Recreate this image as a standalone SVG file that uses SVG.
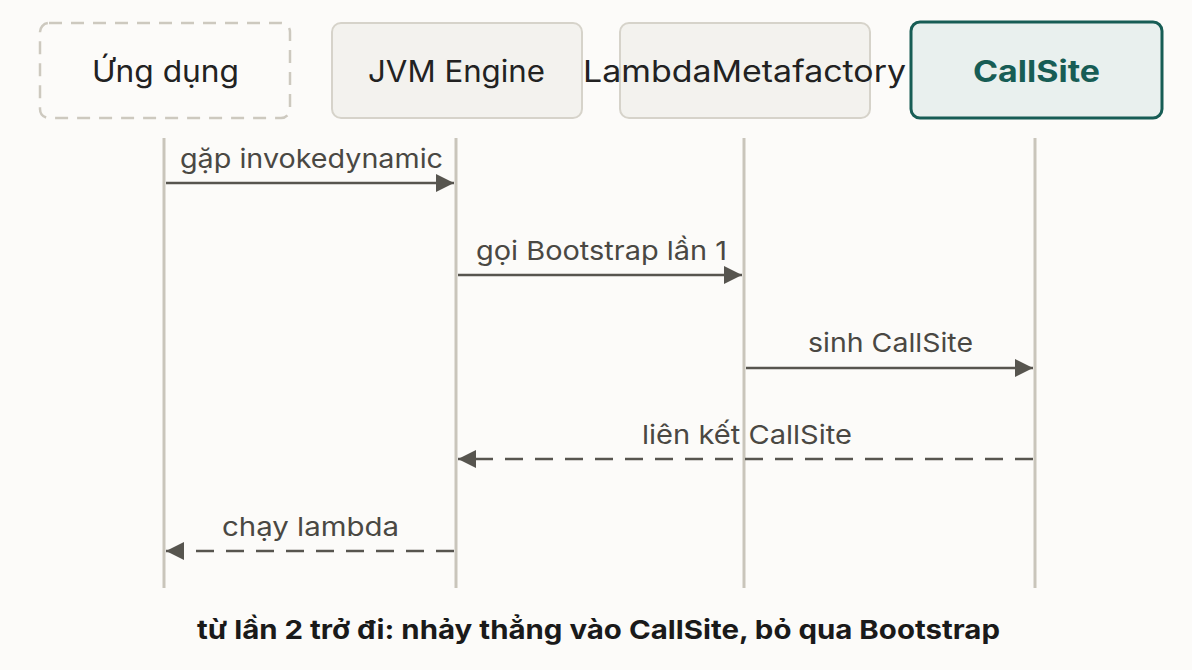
<svg xmlns="http://www.w3.org/2000/svg" width="1192" height="670" viewBox="0 0 1192 670">
<defs>
<style>
.bg{fill:#fcfbf9}
.box{fill:#f3f2ee;stroke:#d6d3ca;stroke-width:2}
.dash{fill:#fcfbf9;stroke:#cdc9bf;stroke-width:2.5;stroke-dasharray:13 9}
.hl{fill:#e9f0ee;stroke:#175d55;stroke-width:3}
.nt{font-family:Inter,"Noto Sans",sans-serif;font-size:30px;fill:#222;text-anchor:middle}
.nth{font-family:Inter,"Noto Sans",sans-serif;font-size:30px;font-weight:700;fill:#175d55;text-anchor:middle}
.life{stroke:#c9c5bb;stroke-width:3}
.msg{stroke:#57554f;stroke-width:2.5;fill:none}
.ret{stroke:#57554f;stroke-width:2.5;fill:none;stroke-dasharray:18 12}
.lt{font-family:Inter,"Noto Sans",sans-serif;font-size:26px;fill:#4a4843;text-anchor:middle}
.ft{font-family:Inter,"Noto Sans",sans-serif;font-size:26px;font-weight:700;fill:#1a1a1a;text-anchor:middle}
</style>
<marker id="ah2" viewBox="0 0 18 18" refX="18" refY="9" markerWidth="18" markerHeight="18" markerUnits="userSpaceOnUse" orient="auto">
<path d="M0,0 L18,9 L0,18 Z" fill="#57554f"/>
</marker>
</defs>
<rect class="bg" x="0" y="0" width="1192" height="670"/>
<g id="lifelines">
<line class="life" x1="164" y1="138" x2="164" y2="588"/>
<line class="life" x1="456" y1="138" x2="456" y2="588"/>
<line class="life" x1="744" y1="138" x2="744" y2="588"/>
<line class="life" x1="1035" y1="138" x2="1035" y2="588"/>
</g>
<g id="app"><rect class="dash" x="40" y="23" width="250" height="95" rx="9"/><text class="nt" x="165.5" y="82" textLength="147" lengthAdjust="spacingAndGlyphs">Ứng dụng</text></g>
<g id="jvm"><rect class="box" x="332" y="23" width="250" height="95" rx="9"/><text class="nt" x="456.5" y="82" textLength="177" lengthAdjust="spacingAndGlyphs">JVM Engine</text></g>
<g id="lmf"><rect class="box" x="620" y="23" width="250" height="95" rx="9"/><text class="nt" x="744.5" y="82" textLength="323" lengthAdjust="spacingAndGlyphs">LambdaMetafactory</text></g>
<g id="callsite"><rect class="hl" x="911" y="22" width="251" height="96" rx="9"/><text class="nth" x="1036.5" y="82" textLength="127" lengthAdjust="spacingAndGlyphs">CallSite</text></g>
<g id="connectors">
<line class="msg" x1="166" y1="183" x2="454" y2="183" marker-end="url(#ah2)"/>
<text class="lt" x="311.5" y="168" textLength="263" lengthAdjust="spacingAndGlyphs">gặp invokedynamic</text>
<line class="msg" x1="458" y1="275" x2="742" y2="275" marker-end="url(#ah2)"/>
<text class="lt" x="601.5" y="260" textLength="251" lengthAdjust="spacingAndGlyphs">gọi Bootstrap lần 1</text>
<line class="msg" x1="746" y1="368" x2="1033" y2="368" marker-end="url(#ah2)"/>
<text class="lt" x="890.5" y="352" textLength="165" lengthAdjust="spacingAndGlyphs">sinh CallSite</text>
<line class="ret" x1="1033" y1="459" x2="458" y2="459" marker-end="url(#ah2)"/>
<text class="lt" x="747" y="444" textLength="210" lengthAdjust="spacingAndGlyphs">liên kết CallSite</text>
<line class="ret" x1="454" y1="551" x2="166" y2="551" marker-end="url(#ah2)"/>
<text class="lt" x="310.5" y="536" textLength="177" lengthAdjust="spacingAndGlyphs">chạy lambda</text>
</g>
<text class="ft" x="598.5" y="639" textLength="803" lengthAdjust="spacingAndGlyphs">từ lần 2 trở đi: nhảy thẳng vào CallSite, bỏ qua Bootstrap</text>
</svg>
